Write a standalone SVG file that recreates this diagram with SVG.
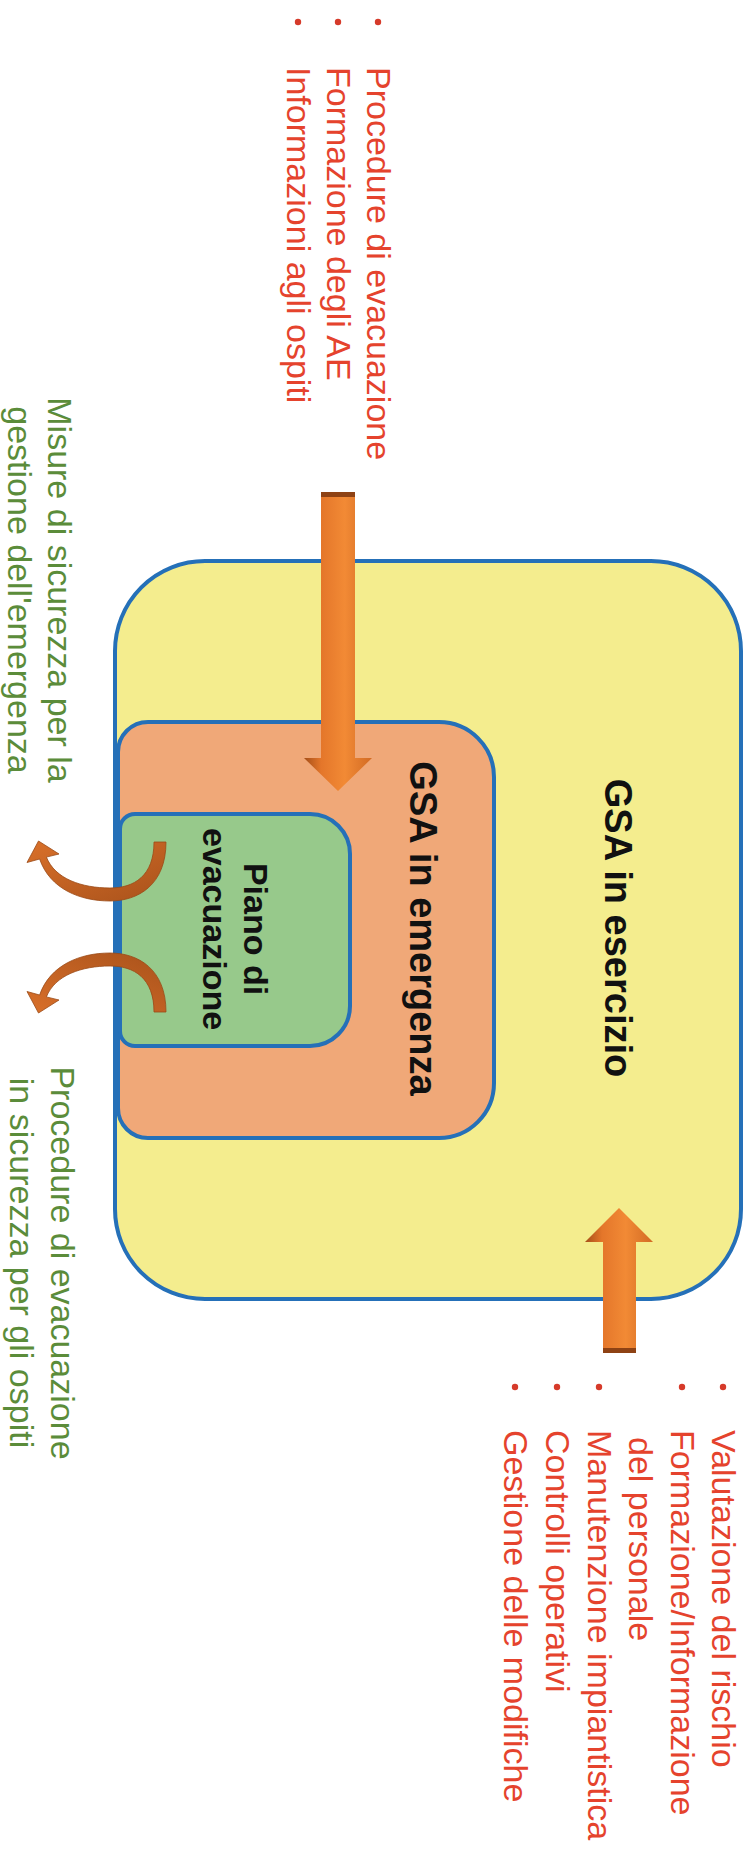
<svg xmlns="http://www.w3.org/2000/svg" width="752" height="1850" viewBox="0 0 752 1850">
<style>
.box{stroke:#2570B8;stroke-width:4}
.bold{font-family:"Liberation Sans",Arial,sans-serif;font-weight:bold;fill:#111}
.red{font-family:"Liberation Sans",Arial,sans-serif;font-size:34px;fill:#E5432D}
.green{font-family:"Liberation Sans",Arial,sans-serif;font-size:34px;fill:#5B8C3A}
.dot{fill:#D63A2A}
.carrow{fill:url(#cg);stroke:#9A4A16;stroke-width:0.8}
</style>
<defs>
<linearGradient id="vg" x1="0" y1="0" x2="1" y2="0">
<stop offset="0" stop-color="#A54E18"/>
<stop offset="0.25" stop-color="#E4762A"/>
<stop offset="0.6" stop-color="#F28A35"/>
<stop offset="1" stop-color="#D26B24"/>
</linearGradient>
<linearGradient id="cg" x1="0" y1="0" x2="1" y2="1">
<stop offset="0" stop-color="#D9702A"/>
<stop offset="1" stop-color="#A9521B"/>
</linearGradient>
</defs>
<rect width="752" height="1850" fill="#FFFFFF"/>

<g id="gsa-esercizio">
<rect class="box" x="115" y="561" width="626" height="738" rx="90" fill="#F4ED8E"/>
<text class="bold" font-size="38" text-anchor="middle" transform="translate(605,928) rotate(90)">GSA in esercizio</text>
</g>

<g id="gsa-emergenza">
<path class="box" fill="#F0A878" d="M148,722 H439 A55,55 0 0 1 494,777 V1083 A55,55 0 0 1 439,1138 H148 A30,30 0 0 1 118,1108 V752 A30,30 0 0 1 148,722 Z"/>
<text class="bold" font-size="38" text-anchor="middle" transform="translate(410,928.5) rotate(90)">GSA in emergenza</text>
</g>

<g id="piano-evacuazione">
<path class="box" fill="#97C98B" d="M135,814 H310 A40,40 0 0 1 350,854 V1006 A40,40 0 0 1 310,1046 H135 A15,15 0 0 1 120,1031 V829 A15,15 0 0 1 135,814 Z"/>
<text class="bold" font-size="34" text-anchor="middle" transform="translate(244,929) rotate(90)">Piano di</text>
<text class="bold" font-size="34" text-anchor="middle" transform="translate(203,929) rotate(90)">evacuazione</text>
</g>

<g id="input-emergenza">
<circle class="dot" cx="378" cy="22" r="3.2"/>
<circle class="dot" cx="338" cy="22" r="3.2"/>
<circle class="dot" cx="298" cy="22" r="3.2"/>
<text class="red" transform="translate(367,67) rotate(90)">Procedure di evacuazione</text>
<text class="red" transform="translate(327,67) rotate(90)">Formazione degli AE</text>
<text class="red" transform="translate(287,67) rotate(90)">Informazioni agli ospiti</text>
</g>

<g id="input-esercizio">
<circle class="dot" cx="723" cy="1387" r="3.2"/>
<circle class="dot" cx="682" cy="1387" r="3.2"/>
<circle class="dot" cx="599" cy="1387" r="3.2"/>
<circle class="dot" cx="557" cy="1387" r="3.2"/>
<circle class="dot" cx="515" cy="1387" r="3.2"/>
<text class="red" transform="translate(712,1430) rotate(90)">Valutazione del rischio</text>
<text class="red" transform="translate(671,1430) rotate(90)">Formazione/Informazione</text>
<text class="red" transform="translate(629,1437) rotate(90)">del personale</text>
<text class="red" transform="translate(588,1430) rotate(90)">Manutenzione impiantistica</text>
<text class="red" transform="translate(546,1430) rotate(90)">Controlli operativi</text>
<text class="red" transform="translate(504,1430) rotate(90)">Gestione delle modifiche</text>
</g>

<g id="output-misure">
<text class="green" text-anchor="middle" transform="translate(48,590) rotate(90)">Misure di sicurezza per la</text>
<text class="green" text-anchor="middle" transform="translate(8,590) rotate(90)">gestione dell'emergenza</text>
</g>

<g id="output-procedure">
<text class="green" text-anchor="middle" transform="translate(51,1263) rotate(90)">Procedure di evacuazione</text>
<text class="green" text-anchor="middle" transform="translate(10,1263) rotate(90)">in sicurezza per gli ospiti</text>
</g>

<g id="connectors">
<g id="arrow-top">
<path fill="url(#vg)" d="M321,492 H355 V758 H372 L338,791 L304,758 H321 Z"/>
<rect x="321" y="492" width="34" height="5" fill="#8E4214"/>
</g>
<g id="arrow-bottom">
<path fill="url(#vg)" d="M603,1353 H636 V1242 H653 L619,1208 L585,1242 H603 Z"/>
<rect x="603" y="1348" width="33" height="5" fill="#8E4214"/>
</g>
<path id="arrow-curve-1" class="carrow" d="M154,842 L166,842 C166,885 138,901 110,901 C80,901 50,889 39.6,859 L27,862.5 L38.5,841 L59,854 L46.4,857.1 C55,879 82,888 110,888 C134,888 154,876 154,842 Z"/>
<path id="arrow-curve-2" class="carrow" transform="translate(0,1854) scale(1,-1)" d="M154,842 L166,842 C166,885 138,901 110,901 C80,901 50,889 39.6,859 L27,862.5 L38.5,841 L59,854 L46.4,857.1 C55,879 82,888 110,888 C134,888 154,876 154,842 Z"/>
</g>
</svg>
